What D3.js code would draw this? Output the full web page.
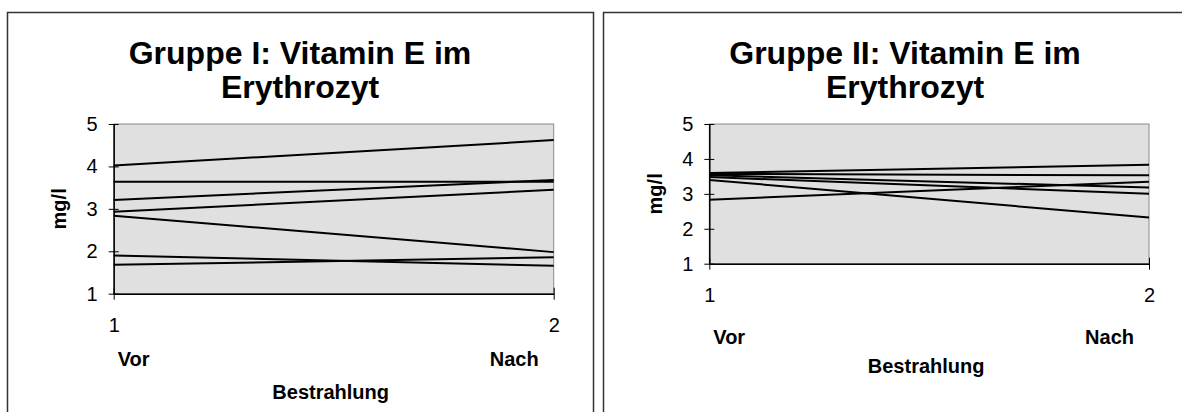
<!DOCTYPE html>
<meta charset="utf-8">
<style>

body {
  margin: 0;
  background: #fff;
}

text {
  font-family: "Liberation Sans", Arial, sans-serif;
  fill: #000;
}

.axis path {
  stroke: #000;
  stroke-width: 1.5px;
}

.axis line {
  stroke: #000;
  stroke-width: 1px;
}

.axis text {
  font-size: 20px;
}

.series {
  fill: none;
  stroke: #000;
  stroke-width: 2px;
}

</style>
<svg></svg>
<script src="https://d3js.org/d3.v7.min.js"></script>
<script>

var width = 1182,
    height = 412;

// values, one entry per patient
var xTicks = [1, 2];
var yTicks = [1, 2, 3, 4, 5];
var xCategories = ["Vor", "Nach"];
var xTitle = "Bestrahlung";
var yTitle = "mg/l";

var gruppe1Vor  = [4.02, 3.64, 3.21, 2.93, 2.84, 1.90, 1.68];
var gruppe1Nach = [4.62, 3.64, 3.68, 3.45, 1.98, 1.66, 1.86];

var gruppe2Vor  = [3.60, 3.57, 3.53, 3.48, 2.83, 3.40];
var gruppe2Nach = [3.83, 3.53, 3.18, 3.00, 3.35, 2.32];

var svg = d3.select("svg")
    .attr("width", width)
    .attr("height", height);

// chart frames, both run off the bottom (and the right one off the right)
svg.append("rect")
    .attr("x", 7.5).attr("y", 12.5)
    .attr("width", 586).attr("height", 420)
    .attr("fill", "none").attr("stroke", "#333").attr("stroke-width", 1.5);

svg.append("rect")
    .attr("x", 603.5).attr("y", 12.5)
    .attr("width", 620).attr("height", 420)
    .attr("fill", "none").attr("stroke", "#333").attr("stroke-width", 1.5);

drawChart({
  title: ["Gruppe I: Vitamin E im", "Erythrozyt"],
  titleX: 300,
  vor: gruppe1Vor, nach: gruppe1Nach,
  left: 113.7, right: 553.7, top: 124, bottom: 293.7,
  yTitleX: 59,
  catY: 366, xTitleY: 399
});

drawChart({
  title: ["Gruppe II: Vitamin E im", "Erythrozyt"],
  titleX: 905,
  vor: gruppe2Vor, nach: gruppe2Nach,
  left: 709.3, right: 1149, top: 124, bottom: 263.7,
  yTitleX: 655,
  catY: 344, xTitleY: 373
});

function drawChart(c) {
  var x = d3.scaleLinear().domain([1, 2]).range([c.left, c.right]);
  var y = d3.scaleLinear().domain([1, 5]).range([c.bottom, c.top]);

  var g = svg.append("g");

  // title, two lines
  g.append("text")
      .attr("x", c.titleX).attr("y", 64)
      .attr("text-anchor", "middle")
      .style("font-size", "32px").style("font-weight", "bold")
      .text(c.title[0]);
  g.append("text")
      .attr("x", c.titleX).attr("y", 98)
      .attr("text-anchor", "middle")
      .style("font-size", "32px").style("font-weight", "bold")
      .text(c.title[1]);

  // plot area
  g.append("rect")
      .attr("x", c.left).attr("y", c.top)
      .attr("width", c.right - c.left).attr("height", c.bottom - c.top)
      .attr("fill", "#e0e0e0")
      .attr("stroke", "#8a8a8a").attr("stroke-width", 1);

  var rows = c.vor.map(function(v, i) { return [[1, v], [2, c.nach[i]]]; });

  var line = d3.line()
      .x(function(d) { return x(d[0]); })
      .y(function(d) { return y(d[1]); });

  g.selectAll(".series")
    .data(rows)
    .enter().append("path")
      .attr("class", "series")
      .attr("d", line);

  // y axis, Excel style cross ticks
  var yAxis = g.append("g")
      .attr("class", "axis")
      .attr("transform", "translate(" + c.left + ",0)")
      .call(d3.axisLeft(y).tickValues(yTicks).tickFormat(d3.format("d"))
        .tickSize(5).tickSizeOuter(0).tickPadding(11));
  yAxis.selectAll(".tick line").attr("x1", 5);

  var xAxis = g.append("g")
      .attr("class", "axis")
      .attr("transform", "translate(0," + c.bottom + ")")
      .call(d3.axisBottom(x).tickValues(xTicks).tickFormat(d3.format("d"))
        .tickSize(6).tickSizeOuter(0).tickPadding(18));
  xAxis.selectAll(".tick line").attr("y1", -6);

  // category names under the numeric ticks
  g.selectAll(".cat")
    .data(xCategories)
    .enter().append("text")
      .attr("class", "cat")
      .attr("x", function(d, i) { return i == 0 ? x(1) + 4 : x(2) - 15; })
      .attr("y", c.catY)
      .attr("text-anchor", function(d, i) { return i == 0 ? "start" : "end"; })
      .style("font-size", "20px").style("font-weight", "bold")
      .text(function(d) { return d; });

  g.append("text")
      .attr("x", (c.left + c.right) / 2 - 3).attr("y", c.xTitleY)
      .attr("text-anchor", "middle")
      .style("font-size", "20px").style("font-weight", "bold")
      .text(xTitle);

  g.append("text")
      .attr("transform", "translate(" + c.yTitleX + "," + (c.top + c.bottom) / 2 + ") rotate(-90)")
      .attr("text-anchor", "middle")
      .attr("dy", "0.35em")
      .style("font-size", "20px").style("font-weight", "bold")
      .text(yTitle);
}

</script>
